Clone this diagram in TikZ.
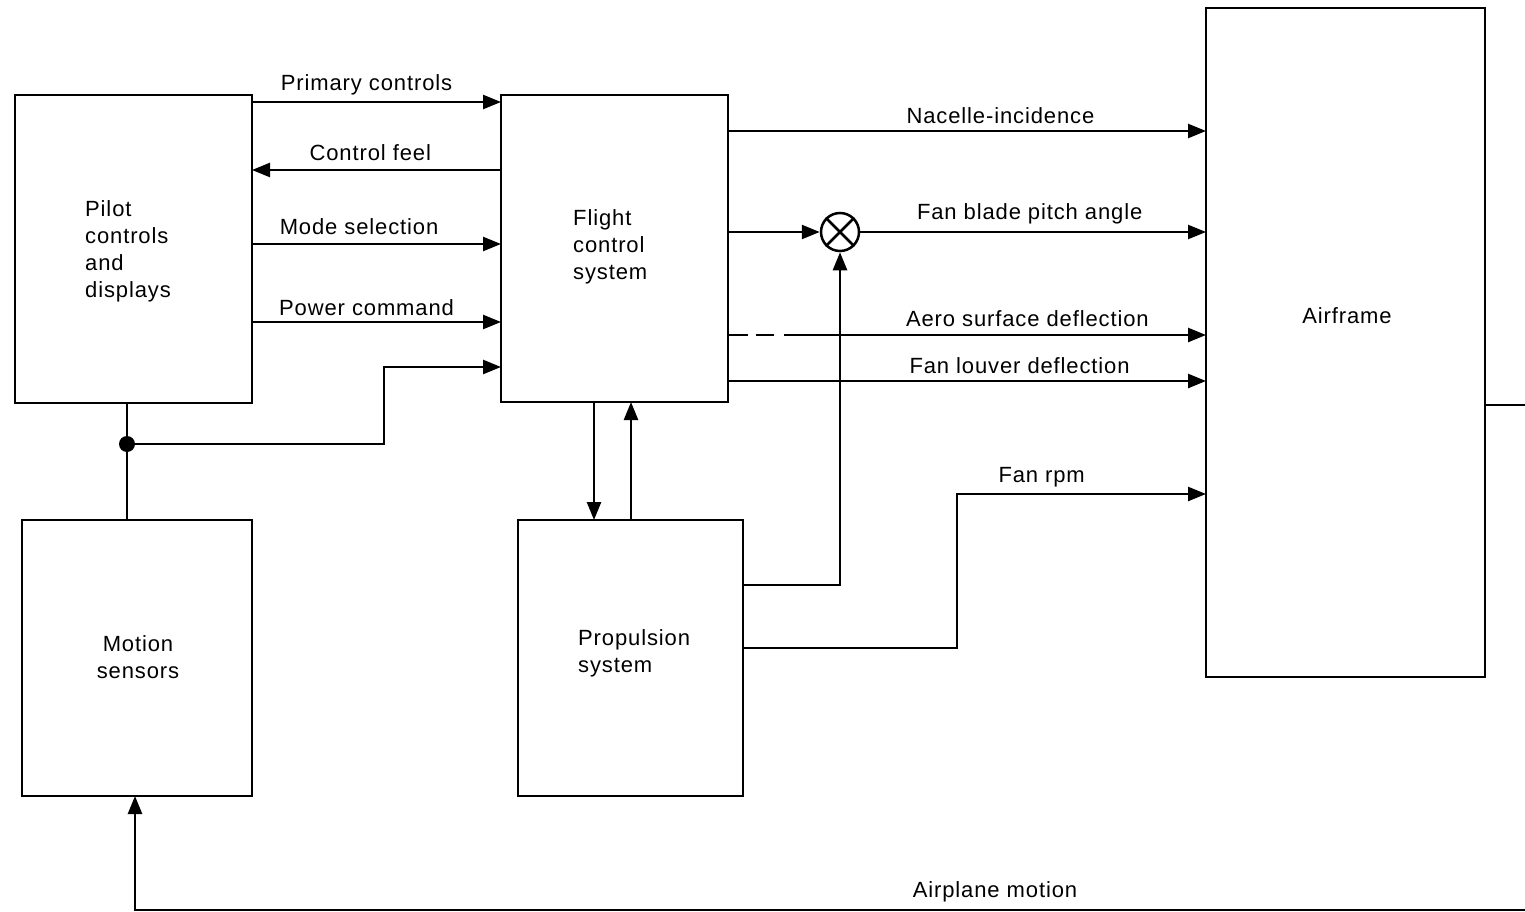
\documentclass[tikz,border=0pt]{standalone}
\usepackage{fontspec}
\setmainfont[LetterSpace=4]{Liberation Sans}
\usetikzlibrary{arrows.meta}
\tikzset{
  box/.style={draw, line width=2.5pt, inner sep=0pt, outer sep=0pt},
  lbl/.style={font=\fontsize{22}{27}\selectfont, inner sep=0pt},
  blk/.style={font=\fontsize{22}{27}\selectfont, inner sep=0pt, align=left, anchor=north west},
  wire/.style={line width=2.5pt},
  arr/.style={wire, -{Triangle[length=18pt,width=14pt]}},
}
\begin{document}
\begin{tikzpicture}[x=1pt,y=-1pt]
\useasboundingbox (0,0) rectangle (1525,912);
% boxes
\node[box, minimum width=237pt, minimum height=308pt] (pilot) at (133.5,249) {};
\node[box, minimum width=230pt, minimum height=276pt] (motion) at (137,658) {};
\node[box, minimum width=227pt, minimum height=307pt] (fcs) at (614.5,248.5) {};
\node[box, minimum width=225pt, minimum height=276pt] (prop) at (630.5,658) {};
\node[box, minimum width=279pt, minimum height=669pt] (air) at (1345.5,342.5) {};
\node[draw, circle, line width=2.5pt, minimum size=38pt, inner sep=0pt] (sum) at (840,232) {};
\draw[wire] (sum.45) -- (sum.225) (sum.135) -- (sum.315);
% box texts
\node[blk] (tpilot) at (85,200) {Pilot\\controls\\and\\displays};
\node[blk] (tfcs) at (573,209) {Flight\\control\\system};
\node[blk, align=center, anchor=north] (tmot) at (138,635) {Motion\\sensors};
\node[blk] (tprop) at (578,629) {Propulsion\\system};
\node[lbl] (tair) at (1347,316) {Airframe};
% pilot <-> fcs
\draw[arr] (pilot.east |- 0,102) -- node[lbl, pos=0.46, above=6pt] (l1) {Primary controls} (fcs.west |- 0,102);
\draw[arr] (fcs.west |- 0,170) -- node[lbl, pos=0.525, above=8pt] (l2) {Control feel} (pilot.east |- 0,170);
\draw[arr] (pilot.east |- 0,244) -- node[lbl, pos=0.43, above=8pt] (l3) {Mode selection} (fcs.west |- 0,244);
\draw[arr] (pilot.east |- 0,322) -- node[lbl, pos=0.46, above=5pt] (l4) {Power command} (fcs.west |- 0,322);
% sensor feedback
\coordinate (dot) at (127,444);
\draw[wire] (pilot.south -| dot) -- (motion.north -| dot);
\fill (dot) circle (8pt);
\draw[arr] (dot) -| (384,367) -- (fcs.west |- 0,367);
% fcs -> airframe
\draw[arr] (fcs.east |- 0,131) -- node[lbl, pos=0.57, above=6pt] (l5) {Nacelle-incidence} (air.west |- 0,131);
\draw[arr] (fcs.east |- 0,232) -- (sum.west);
\draw[arr] (sum.east) -- node[lbl, pos=0.49, above=7pt] (l6) {Fan blade pitch angle} (air.west |- 0,232);
\draw[wire, dash pattern=on 20pt off 8pt on 18pt off 10pt] (fcs.east |- 0,335) -- (800,335);
\draw[arr] (800,335) -- node[lbl, pos=0.56, above=7pt] (l7) {Aero surface deflection} (air.west |- 0,335);
\draw[arr] (fcs.east |- 0,381) -- node[lbl, pos=0.61, above=6pt] (l8) {Fan louver deflection} (air.west |- 0,381);
% fcs <-> propulsion
\draw[arr] (fcs.south -| 594,0) -- (prop.north -| 594,0);
\draw[arr] (prop.north -| 631,0) -- (fcs.south -| 631,0);
% propulsion outputs
\draw[arr] (prop.east |- 0,585) -| (sum.south);
\draw[arr] (prop.east |- 0,648) -| (957,494) -- node[lbl, pos=0.34, above=6pt] (l9) {Fan rpm} (air.west |- 0,494);
% airframe output / airplane motion
\coordinate (redge) at (1525,405);
\draw[wire] (air.east |- redge) -- (redge);
\coordinate (bedge) at (1525,910);
\draw[arr] (bedge) -| (motion.south -| 135,0);
\node[lbl] (l10) at (995,892) {Airplane motion};
\end{tikzpicture}
\end{document}
